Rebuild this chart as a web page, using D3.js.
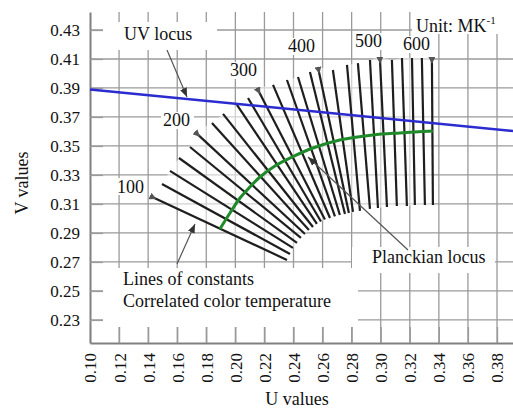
<!DOCTYPE html>
<html>
<head>
<meta charset="utf-8">
<script src="https://cdn.jsdelivr.net/npm/d3@7"></script>
<style>
body { margin: 0; background: #fff; }
text { font-family: "Liberation Serif", "Times New Roman", serif; fill: #111; }
</style>
</head>
<body>
<div id="chart"></div>
<script>
// tick labels
const uTicks = [0.10, 0.12, 0.14, 0.16, 0.18, 0.20, 0.22, 0.24, 0.26, 0.28, 0.30, 0.32, 0.34, 0.36, 0.38];
const vTicks = [0.23, 0.25, 0.27, 0.29, 0.31, 0.33, 0.35, 0.37, 0.39, 0.41, 0.43];

// lines of constant CCT (100 .. 600 MK^-1, step 20), top and bottom ends
const isoTopU = [0.1413, 0.1495, 0.1550, 0.1612, 0.1688, 0.1722, 0.1839, 0.1915, 0.2011, 0.2087, 0.2149, 0.2259, 0.2355,
                 0.2431, 0.2513, 0.2568, 0.2671, 0.2768, 0.2843, 0.2926, 0.2994, 0.3077, 0.3146, 0.3215, 0.3283, 0.3352];
const isoTopV = [0.3155, 0.3238, 0.3328, 0.3417, 0.3493, 0.3597, 0.3659, 0.3721, 0.3783, 0.3831, 0.3900, 0.3921, 0.3955,
                 0.3976, 0.4010, 0.4045, 0.4024, 0.4059, 0.4072, 0.4093, 0.4114, 0.4093, 0.4107, 0.4107, 0.4107, 0.4114];
const isoBotU = [0.2355, 0.2376, 0.2396, 0.2424, 0.2451, 0.2479, 0.2506, 0.2534, 0.2561, 0.2589, 0.2616, 0.2651, 0.2685,
                 0.2719, 0.2754, 0.2781, 0.2809, 0.2857, 0.2926, 0.2981, 0.3043, 0.3111, 0.3180, 0.3235, 0.3304, 0.3359];
const isoBotV = [0.2714, 0.2755, 0.2797, 0.2831, 0.2866, 0.2893, 0.2921, 0.2941, 0.2962, 0.2979, 0.2993, 0.3003, 0.3014,
                 0.3024, 0.3031, 0.3038, 0.3045, 0.3052, 0.3066, 0.3072, 0.3079, 0.3086, 0.3086, 0.3093, 0.3093, 0.3093];
const cctLabels = ["100", "200", "300", "400", "500", "600"];

// Planckian locus
const planckU = [0.1894, 0.1963, 0.2032, 0.2100, 0.2169, 0.2272, 0.2376, 0.2534, 0.2719, 0.2946, 0.3132, 0.3359];
const planckV = [0.2928, 0.3038, 0.3141, 0.3217, 0.3286, 0.3362, 0.3417, 0.3486, 0.3541, 0.3576, 0.3590, 0.3603];

// UV locus
const uvLocusU = [0.100, 0.391];
const uvLocusV = [0.389, 0.3603];

const width = 513, height = 418;
const plotLeft = 90, plotRight = 513, plotTop = 12, plotBottom = 343;

const svg = d3.select("#chart")
              .append("svg")
              .attr("width", width)
              .attr("height", height);

const x = d3.scaleLinear().domain([0.10, 0.391]).range([plotLeft, plotRight]);
const y = d3.scaleLinear().domain([0.2141, 0.4424]).range([plotBottom, plotTop]);

const defs = svg.append("defs");
defs.append("marker")
    .attr("id", "arr")
    .attr("viewBox", "0 0 10 10")
    .attr("refX", 10).attr("refY", 5)
    .attr("markerWidth", 9).attr("markerHeight", 9)
    .attr("markerUnits", "userSpaceOnUse")
    .attr("orient", "auto")
    .append("path").attr("d", "M0,1 L10,5 L0,9 Z").attr("fill", "#333");
defs.append("marker")
    .attr("id", "tip")
    .attr("viewBox", "0 0 10 10")
    .attr("refX", 0).attr("refY", 5)
    .attr("markerWidth", 7).attr("markerHeight", 7)
    .attr("markerUnits", "userSpaceOnUse")
    .attr("orient", "auto")
    .append("path").attr("d", "M0,0 L10,5 L0,10 Z").attr("fill", "#555");

// grid
const grid = svg.append("g").attr("stroke", "#9a9a9a").attr("stroke-width", 1.3);
grid.selectAll("line.v")
    .data(uTicks.slice(1))
    .enter().append("line")
    .attr("x1", d => x(d)).attr("x2", d => x(d))
    .attr("y1", plotTop).attr("y2", plotBottom);
grid.selectAll("line.h")
    .data(vTicks)
    .enter().append("line")
    .attr("x1", plotLeft).attr("x2", plotRight)
    .attr("y1", d => y(d)).attr("y2", d => y(d));

// lightened area under the fan
const fanPoly = isoTopU.map((d, i) => [x(d), y(isoTopV[i])])
    .concat(isoBotU.map((d, i) => [x(d), y(isoBotV[i])]).reverse());
svg.append("path")
   .attr("d", "M" + fanPoly.join("L") + "Z")
   .attr("fill", "#fff")
   .attr("fill-opacity", 0.55);

// white boxes behind annotations
const boxes = [[103, 22, 114, 28], [412, 12, 101, 22], [103, 268, 255, 59], [352, 247, 143, 26],
               [115, 178, 30, 17], [161, 112, 33, 17], [228, 62, 31, 17], [286, 38, 31, 17],
               [353, 33, 31, 17], [401, 36, 31, 17]];
svg.selectAll("rect.box")
   .data(boxes)
   .enter().append("rect")
   .attr("x", d => d[0]).attr("y", d => d[1])
   .attr("width", d => d[2]).attr("height", d => d[3])
   .attr("fill", "#fff");

// axes
const xAxis = svg.append("g")
                 .attr("transform", "translate(0," + plotBottom + ")")
                 .call(d3.axisBottom(x).tickValues(uTicks).tickFormat(d3.format(".2f")).tickSizeInner(-16).tickSizeOuter(0));
xAxis.select(".domain").attr("stroke", "#808080").attr("stroke-width", 2);
xAxis.selectAll(".tick line").attr("stroke", "#9a9a9a").attr("stroke-width", 1.3);
xAxis.selectAll("text")
     .attr("transform", "rotate(-90)")
     .attr("x", -10).attr("y", 0).attr("dy", "0.35em")
     .style("text-anchor", "end")
     .style("font-size", "17px")
     .style("font-family", "Liberation Serif")
     .attr("fill", "#111");

const yAxis = svg.append("g")
                 .attr("transform", "translate(" + plotLeft + ",0)")
                 .call(d3.axisLeft(y).tickValues(vTicks).tickFormat(d3.format(".2f")).tickSizeInner(-13).tickSizeOuter(0).tickPadding(10));
yAxis.select(".domain").attr("stroke", "#808080").attr("stroke-width", 2);
yAxis.selectAll(".tick line").attr("stroke", "#9a9a9a").attr("stroke-width", 1.3);
yAxis.selectAll("text")
     .style("font-size", "17px")
     .style("font-family", "Liberation Serif")
     .attr("fill", "#111");

// lines of constant CCT
svg.selectAll("line.iso")
   .data(isoTopU)
   .enter().append("line")
   .attr("x1", d => x(d))
   .attr("y1", (d, i) => y(isoTopV[i]))
   .attr("x2", (d, i) => x(isoBotU[i]))
   .attr("y2", (d, i) => y(isoBotV[i]))
   .attr("stroke", "#1e1e1e")
   .attr("stroke-width", 2.2)
   .attr("marker-start", (d, i) => i % 5 === 0 ? "url(#tip)" : null);

// UV locus
svg.append("path")
   .datum(uvLocusU.map((d, i) => [d, uvLocusV[i]]))
   .attr("d", d3.line().x(d => x(d[0])).y(d => y(d[1])))
   .attr("fill", "none")
   .attr("stroke", "#2b2bd0")
   .attr("stroke-width", 2.5);

// Planckian locus
svg.append("path")
   .datum(planckU.map((d, i) => [d, planckV[i]]))
   .attr("d", d3.line().curve(d3.curveCatmullRom).x(d => x(d[0])).y(d => y(d[1])))
   .attr("fill", "none")
   .attr("stroke", "#1f8a2a")
   .attr("stroke-width", 3);

// annotation arrows
const arrows = [[167, 50, 187, 97], [408, 250, 308, 157], [177, 264, 195, 224]];
svg.selectAll("line.arrow")
   .data(arrows)
   .enter().append("line")
   .attr("x1", d => d[0]).attr("y1", d => d[1])
   .attr("x2", d => d[2]).attr("y2", d => d[3])
   .attr("stroke", "#555")
   .attr("stroke-width", 1.2)
   .attr("marker-end", "url(#arr)");

// annotation texts
const notes = [["UV locus", 124, 40], ["Planckian locus", 372, 263],
               ["Lines of constants", 123, 285], ["Correlated color temperature", 123, 307]];
svg.selectAll("text.note")
   .data(notes)
   .enter().append("text")
   .attr("x", d => d[1]).attr("y", d => d[2])
   .style("font-size", "18px")
   .text(d => d[0]);

const cctPos = [[117, 193], [163, 126], [230, 76], [288, 52], [355, 47], [403, 50]];
svg.selectAll("text.cct")
   .data(cctLabels)
   .enter().append("text")
   .attr("x", (d, i) => cctPos[i][0]).attr("y", (d, i) => cctPos[i][1])
   .style("font-size", "18px")
   .text(d => d);

const unit = svg.append("text").attr("x", 416).attr("y", 32).style("font-size", "18px");
unit.append("tspan").text("Unit: MK");
unit.append("tspan").attr("dy", -8).style("font-size", "11px").text("-1");

// axis titles
svg.append("text")
   .attr("x", 297).attr("y", 405)
   .attr("text-anchor", "middle")
   .style("font-size", "18px")
   .text("U values");
svg.append("text")
   .attr("transform", "translate(28,183) rotate(-90)")
   .attr("text-anchor", "middle")
   .style("font-size", "18px")
   .text("V values");
</script>
</body>
</html>
